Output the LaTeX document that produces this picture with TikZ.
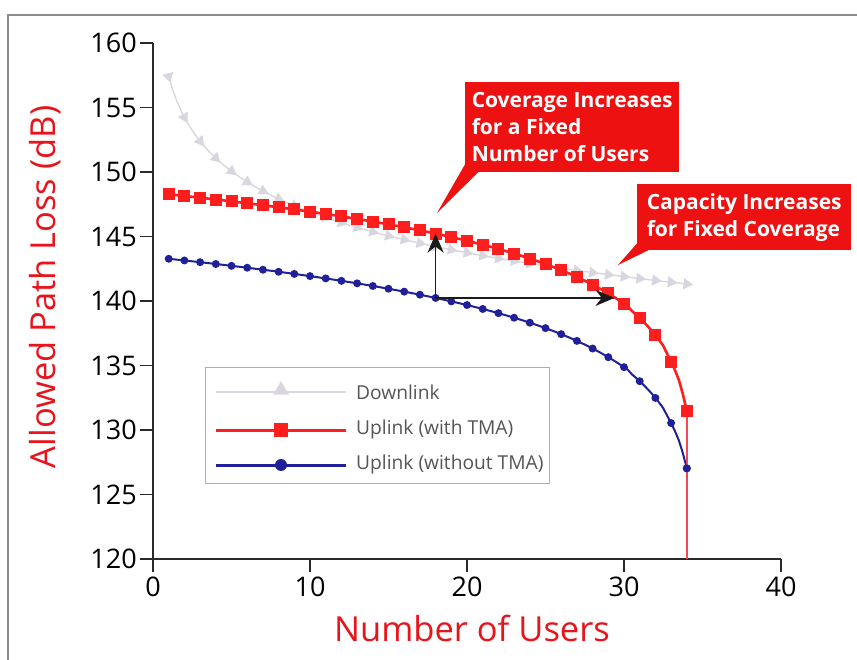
\documentclass[tikz,border=0pt]{standalone}
\usepackage{fontspec}
\setmainfont{Open Sans}
\usetikzlibrary{arrows.meta,shapes.geometric}

\definecolor{calloutred}{HTML}{EE1111}
\definecolor{titlered}{HTML}{E8141C}
\definecolor{ulred}{HTML}{FF1E1E}
\definecolor{vertred}{HTML}{F04A5A}
\definecolor{ulblue}{HTML}{20209A}
\definecolor{dlgray}{HTML}{DAD6E0}
\definecolor{axisgray}{HTML}{2A2A2A}
\definecolor{framegray}{HTML}{8C8C8C}
\definecolor{legendtext}{HTML}{555555}
\definecolor{legendframe}{HTML}{A8B0BC}
\definecolor{arrowblack}{HTML}{1A1A1A}

\begin{document}
\begin{tikzpicture}[x=1pt,y=-1pt,
  axisline/.style={axisgray, line width=1.4pt},
  ticklabel/.style={font=\fontsize{27}{27}\selectfont, text=black, inner sep=0pt},
  axistitle/.style={font=\fontsize{34.5}{34.5}\selectfont, text=titlered, inner sep=0pt},
  callout/.style={fill=calloutred, text=white, font=\fontsize{21}{27}\selectfont\bfseries,
    align=left, inner xsep=0pt, inner ysep=0pt, anchor=north west, minimum width=214pt},
  sqmark/.style={rectangle, fill=ulred, minimum size=12pt, inner sep=0pt},
  dotmark/.style={circle, fill=ulblue, minimum size=8pt, inner sep=0pt},
  trimark/.style={regular polygon, regular polygon sides=3, fill=dlgray, minimum size=13pt, inner sep=0pt},
  redcurve/.style={ulred, line width=2.6pt},
  bluecurve/.style={ulblue, line width=2pt},
  dlcurve/.style={dlgray, line width=1.4pt},
  legtext/.style={font=\fontsize{19.2}{19.2}\selectfont, text=legendtext, anchor=west, inner sep=0pt},
  guide/.style={arrowblack, line width=1.4pt, -{Stealth[length=19pt,width=16pt]}}
]
\useasboundingbox (0,0) rectangle (857,660);

% outer frame (top and left edges)
\draw[framegray, line width=1.2pt] (8,660) -- (8,15) -- (857,15);

% axes
\draw[axisline] (153,43) -- (153,559) -- (781,559);
\foreach \v in {120,125,...,160} {
  \draw[axisline] (140,{559-12.9*(\v-120)}) -- (153,{559-12.9*(\v-120)});
  \node[ticklabel, anchor=east] (ylab\v) at (137,{559-12.9*(\v-120)}) {\v};
}
\foreach \u in {0,10,...,40} {
  \draw[axisline] ({153+15.7*\u},559) -- ({153+15.7*\u},572);
  \node[ticklabel, anchor=north] (xlab\u) at ({153+15.7*\u},577) {\u};
}
\node[axistitle, rotate=90] (ytitle) at (45,287) {Allowed Path Loss (dB)};
\node[axistitle, anchor=base] (xtitle) at (472,641) {Number of Users};

% data: x in users, y in dB above 120
\begin{scope}[shift={(153,559)}, x=15.7pt, y=12.9pt]
  % downlink
  \draw[dlcurve] plot[domain=1:34, samples=133] (\x, {157.4-10.5*log10(\x)-120});
  \foreach \n in {1,...,34} {
    \pgfmathsetmacro\dl{157.4-10.5*log10(\n)-120}
    \pgfmathsetmacro\ang{atan2(-12.9*10.5/(\n*ln(10)), 15.7)-90}
    \node[trimark, rotate=\ang] (dl\n) at (\n,\dl) {};
  }
  % uplink without TMA
  \draw[bluecurve] plot[domain=1:34, samples=133] (\x, {143.4+10*log10(1-\x/34.8)-120});
  \foreach \n in {1,...,34} {
    \pgfmathsetmacro\ub{143.4+10*log10(1-\n/34.8)-120}
    \node[dotmark] (ub\n) at (\n,\ub) {};
  }
  % uplink with TMA
  \draw[redcurve] plot[domain=1:34, samples=133] (\x, {148.4+10*log10(1-\x/34.7)-120});
  \coordinate (redfoot) at (34,0);
  \foreach \n in {1,...,34} {
    \pgfmathsetmacro\ur{148.4+10*log10(1-\n/34.7)-120}
    \node[sqmark] (ur\n) at (\n,\ur) {};
  }
  \draw[vertred, line width=1.6pt] (ur34.center) -- (redfoot);
  \node[sqmark] (ur34top) at (ur34.center) {};
  \node[dotmark] (ub34top) at (ub34.center) {};

  % guide arrows
  \coordinate (base) at (18,20.24);
  \coordinate (vtip) at (18,25.22);
  \coordinate (htip) at (29.4,20.24);
  \draw[guide] (base) -- (vtip);
  \draw[guide] (base) -- (htip);
\end{scope}

% callouts
\node[callout, minimum height=90pt] (c1) at (465,82)
  {Coverage Increases\\for a Fixed\\Number of Users};
\coordinate (c1tip) at (437,213);
\fill[calloutred] ([yshift=8pt]c1.south west) -- ([xshift=13pt]c1.south west) -- (c1tip) -- cycle;

\node[callout, minimum height=66pt] (c2) at (637,184)
  {Capacity Increases\\for Fixed Coverage};
\coordinate (c2tip) at (618,265);
\fill[calloutred] ([yshift=7pt]c2.south west) -- ([xshift=11pt]c2.south west) -- (c2tip) -- cycle;

% legend
\node[draw=legendframe, line width=1pt, fill=white, minimum width=344pt, minimum height=115pt] (legend) at (377,425.5) {};
\coordinate (la1) at (216,392); \coordinate (lb1) at (346,392);
\coordinate (la2) at (216,430); \coordinate (lb2) at (346,430);
\coordinate (la3) at (216,465); \coordinate (lb3) at (346,465);
\draw[dlgray, line width=2pt] (la1) -- (lb1);
\node[trimark, minimum size=18pt] (lm1) at (281,390) {};
\draw[ulred, line width=3pt] (la2) -- (lb2);
\node[sqmark, minimum size=14pt] (lm2) at (281,430) {};
\draw[ulblue, line width=3pt] (la3) -- (lb3);
\node[dotmark, minimum size=12pt] (lm3) at (281,465) {};
\node[legtext] (lt1) at (356,392) {Downlink};
\node[legtext] (lt2) at (356,430) {Uplink (with TMA)};
\node[legtext] (lt3) at (356,465) {Uplink (without TMA)};
\end{tikzpicture}
\end{document}
